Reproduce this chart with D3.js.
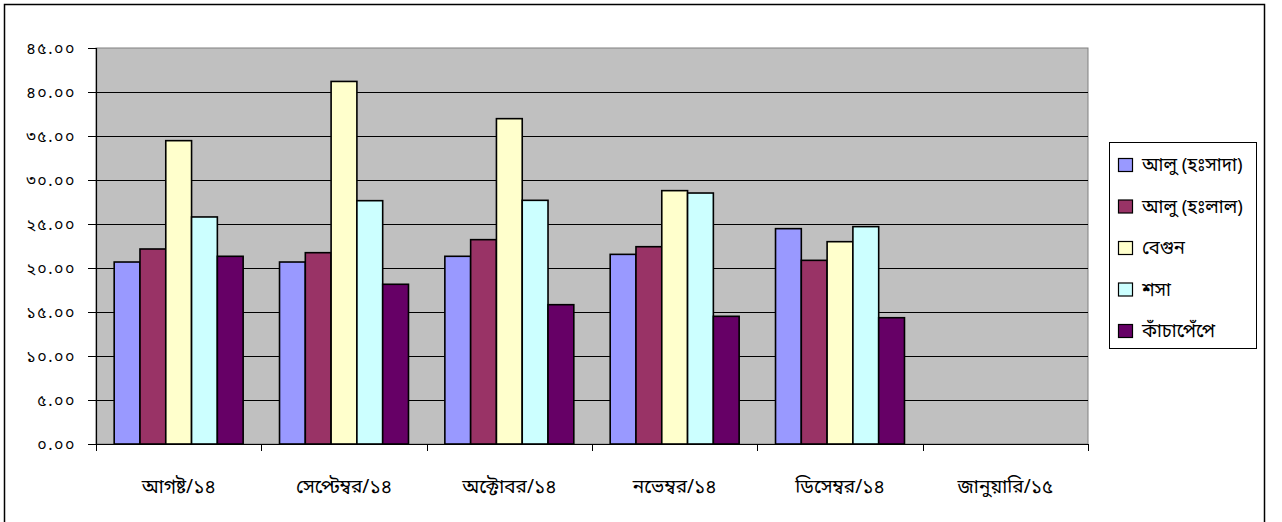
<!DOCTYPE html>
<html>
<head>
<meta charset="utf-8">
<script src="https://cdn.jsdelivr.net/npm/d3@7"></script>
<style>
  html, body { margin: 0; padding: 0; background: #fff; }
  svg { display: block; }
  text { font-family: "Noto Sans Bengali", "Noto Serif Bengali", "Lohit Bengali", "FreeSerif", "Noto Sans", sans-serif; }
</style>
</head>
<body>
<svg id="chart" width="1282" height="522"></svg>
<script>
const categories = ["আগষ্ট/১৪", "সেপ্টেম্বর/১৪", "অক্টোবর/১৪", "নভেম্বর/১৪", "ডিসেম্বর/১৪", "জানুয়ারি/১৫"];
const seriesNames = ["আলু (হঃসাদা)", "আলু (হঃলাল)", "বেগুন", "শসা", "কাঁচাপেঁপে"];
const potatoWhite = [20.68, 20.68, 21.33, 21.55, 24.47, null];
const potatoRed   = [22.16, 21.74, 23.22, 22.42, 20.87, null];
const brinjal     = [34.47, 41.20, 36.97, 28.79, 22.99, null];
const cucumber    = [25.80, 27.65, 27.69, 28.52, 24.70, null];
const papaya      = [21.33, 18.15, 15.83, 14.51, 14.35, null];
const yTickValues = [0, 5, 10, 15, 20, 25, 30, 35, 40, 45];
const yTickLabels = ["০.০০", "৫.০০", "১০.০০", "১৫.০০", "২০.০০", "২৫.০০", "৩০.০০", "৩৫.০০", "৪০.০০", "৪৫.০০"];
const colors = ["#9999FF", "#993366", "#FFFFCC", "#CCFFFF", "#660066"];

const seriesValues = [potatoWhite, potatoRed, brinjal, cucumber, papaya];

const svg = d3.select("#chart");
// outer chart border
svg.append("rect").attr("x", 4.5).attr("y", 4.5).attr("width", 1260).attr("height", 530)
  .attr("fill", "#fff").attr("stroke", "#000").attr("stroke-width", 1.5);

const plot = { left: 96, top: 48, right: 1088, bottom: 444 };

const x0 = d3.scaleBand().domain(categories).range([plot.left, plot.right]).paddingInner(0).paddingOuter(0);
const bw = x0.bandwidth();
const gap = bw * 0.22;
const x1 = d3.scaleBand().domain(seriesNames).range([gap / 2, bw - gap / 2]).padding(0);
const y = d3.scaleLinear().domain([0, 45]).range([plot.bottom, plot.top]);

// plot background
svg.append("rect").attr("x", plot.left).attr("y", plot.top)
  .attr("width", plot.right - plot.left).attr("height", plot.bottom - plot.top)
  .attr("fill", "#C0C0C0").attr("stroke", "#808080").attr("stroke-width", 1);

// gridlines
svg.append("g").selectAll("line").data(yTickValues.filter(v => v > 0 && v < 45)).join("line")
  .attr("x1", plot.left).attr("x2", plot.right)
  .attr("y1", d => Math.round(y(d)) + 0.5).attr("y2", d => Math.round(y(d)) + 0.5)
  .attr("stroke", "#000").attr("stroke-width", 1);

// bars
const groups = svg.append("g").selectAll("g").data(categories).join("g")
  .attr("transform", d => `translate(${x0(d)},0)`);
groups.selectAll("rect")
  .data((c, ci) => seriesNames.map((s, si) => ({ s, si, v: seriesValues[si][ci] })).filter(d => d.v != null))
  .join("rect")
  .attr("x", d => x1(d.s))
  .attr("y", d => y(d.v))
  .attr("width", x1.bandwidth())
  .attr("height", d => y(0) - y(d.v))
  .attr("fill", d => colors[d.si])
  .attr("stroke", "#000").attr("stroke-width", 1.6);

// y axis
const yAxis = d3.axisLeft(y).tickValues(yTickValues).tickSize(8).tickPadding(12)
  .tickFormat((d, i) => yTickLabels[i]);
const gy = svg.append("g").attr("transform", `translate(${plot.left},0)`).call(yAxis);
gy.select(".domain").attr("stroke", "#000").attr("stroke-width", 1.2);
gy.selectAll(".tick line").attr("stroke", "#000");
gy.selectAll("text").attr("font-size", 16).attr("fill", "#000").style("letter-spacing", "1.5px");

// x axis
const xAxis = d3.axisBottom(x0).tickSize(0).tickPadding(36);
const gx = svg.append("g").attr("transform", `translate(0,${plot.bottom})`).call(xAxis);
gx.select(".domain").attr("stroke", "#000").attr("stroke-width", 1.2);
gx.selectAll("text").attr("font-size", 19).attr("fill", "#000");
// category boundary ticks
const boundaries = categories.map(c => x0(c)).concat([plot.right]);
svg.append("g").selectAll("line").data(boundaries).join("line")
  .attr("x1", d => Math.round(d) + 0.5).attr("x2", d => Math.round(d) + 0.5)
  .attr("y1", plot.bottom).attr("y2", plot.bottom + 7)
  .attr("stroke", "#000").attr("stroke-width", 1);

// legend
const legend = svg.append("g");
legend.append("rect").attr("x", 1109.5).attr("y", 142.5).attr("width", 147).attr("height", 206)
  .attr("fill", "#fff").attr("stroke", "#000").attr("stroke-width", 1);
const lrow = legend.selectAll("g.item").data(seriesNames).join("g").attr("class", "item")
  .attr("transform", (d, i) => `translate(1118,${165 + i * 41.5})`);
lrow.append("rect").attr("x", 0.5).attr("y", -6.5).attr("width", 14).attr("height", 13)
  .attr("fill", (d, i) => colors[i]).attr("stroke", "#000").attr("stroke-width", 1.2);
lrow.append("text").attr("x", 24).attr("y", 0).attr("dy", "0.35em")
  .attr("font-size", 18.5).attr("fill", "#000").text(d => d);
</script>
</body>
</html>
